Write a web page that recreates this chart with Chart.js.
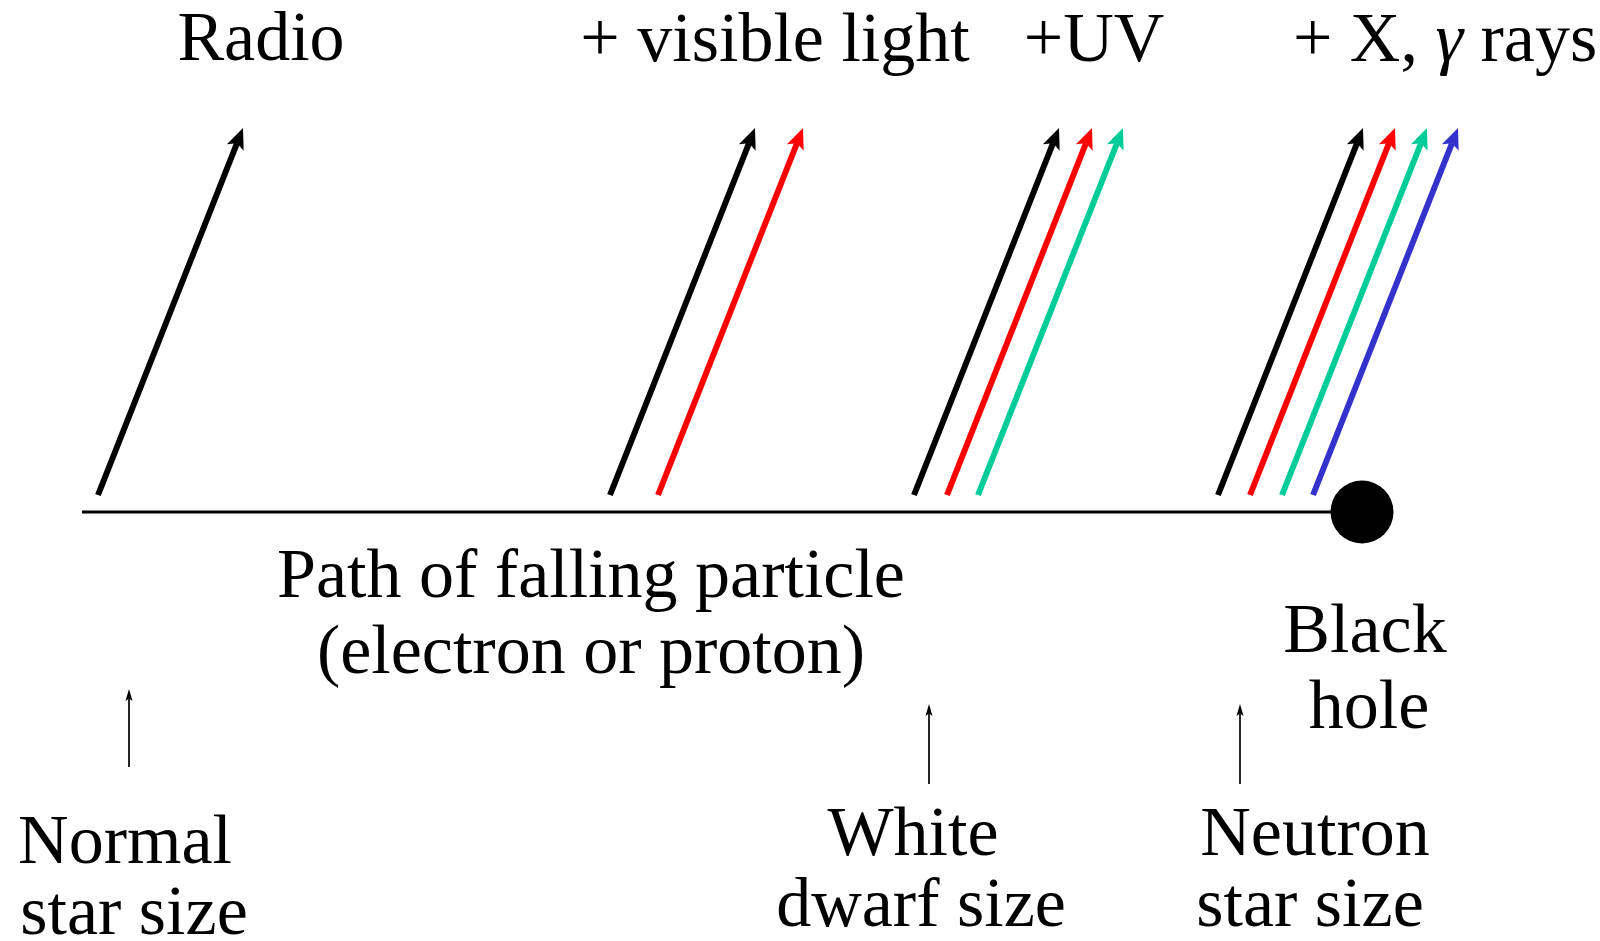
<!DOCTYPE html>
<html>
<head>
<meta charset="utf-8">
<script src="https://cdn.jsdelivr.net/npm/chart.js@4.4.1/dist/chart.umd.min.js"></script>
<style>
  html, body { margin: 0; padding: 0; background: #fff; }
  #wrap { width: 1600px; height: 941px; }
</style>
</head>
<body>
<div id="wrap"><canvas id="diagram"></canvas></div>
<script>
// emission bands, one group of arrows for each stage of the fall
const bandNames = ['Radio', '+ visible light', '+UV', '+ X, \u03b3 rays'];
const bandColors = ['#000000', '#ff0000', '#00cc99', '#3333cc'];
// foot of every emission arrow along the path, grouped by stage
const arrowFeet = [
  [98],
  [610, 658],
  [914, 947, 978],
  [1218, 1250, 1282, 1313]
];
const arrowFootY = 495;
const arrowTipY = 128;
const arrowLean = 145;

const pathStart = 82, pathEnd = 1362, pathY = 512;

// size markers under the path
const markerX = [129, 929, 1240];
const markerTop = [689, 704, 704];
const markerBottom = [767, 784, 784];

// labels (anchor = centre of the baseline)
const labelText = [
  'Radio', '+ visible light', '+UV', '+ X, \u03b3 rays',
  'Path of falling particle', '(electron or proton)',
  'Black', 'hole',
  'Normal', 'star size',
  'White', 'dwarf size',
  'Neutron', 'star size'
];
const labelX = [261, 775, 1094, 1445, 591, 591, 1365, 1369, 125, 134, 913, 921, 1315, 1310];
const labelY = [60, 61, 61, 61, 597, 673, 652, 728, 863, 934, 855, 926, 855, 926];

const datasets = [];

// black hole at the end of the path
datasets.push({
  type: 'scatter',
  data: [{ x: pathEnd, y: pathY }],
  pointRadius: 31.5,
  pointBackgroundColor: '#000',
  pointBorderWidth: 0,
  order: -1
});

datasets.push({
  type: 'line',
  data: [{ x: pathStart, y: pathY }, { x: pathEnd, y: pathY }],
  borderColor: '#000',
  borderWidth: 2.8,
  pointRadius: 0
});

arrowFeet.forEach(group => {
  group.forEach((foot, k) => {
    datasets.push({
      type: 'line',
      data: [{ x: foot, y: arrowFootY }, { x: foot + arrowLean, y: arrowTipY }],
      borderColor: bandColors[k],
      borderWidth: 6,
      pointRadius: 0,
      head: { len: 21, half: 9, notch: 0.78, color: bandColors[k] }
    });
  });
});

markerX.forEach((mx, i) => {
  datasets.push({
    type: 'line',
    data: [{ x: mx, y: markerBottom[i] }, { x: mx, y: markerTop[i] }],
    borderColor: '#000',
    borderWidth: 1.7,
    pointRadius: 0,
    head: { len: 12, half: 3.5, notch: 0.8, color: '#000' }
  });
});

function headGeom(a, b) {
  const dx = b.x - a.x, dy = b.y - a.y;
  const d = Math.hypot(dx, dy);
  const ux = dx / d, uy = dy / d;
  return { ux, uy, nx: -uy, ny: ux, tip: { x: b.x, y: b.y } };
}

const arrowHeads = {
  id: 'arrowHeads',
  beforeDatasetDraw(chart, args) {
    const ds = chart.data.datasets[args.index];
    if (!ds.head) return;
    const pts = args.meta.data;
    const g = headGeom(pts[0], pts[pts.length - 1]);
    const h = ds.head;
    const ctx = chart.ctx;
    // hide the shaft where the head sits
    const back = h.len * h.notch;
    const bx = g.tip.x - g.ux * back, by = g.tip.y - g.uy * back;
    const fx = g.tip.x + g.ux * 4, fy = g.tip.y + g.uy * 4;
    const w = h.half;
    ctx.save();
    ctx.beginPath();
    ctx.rect(0, 0, chart.width, chart.height);
    ctx.moveTo(bx + g.nx * w, by + g.ny * w);
    ctx.lineTo(fx + g.nx * w, fy + g.ny * w);
    ctx.lineTo(fx - g.nx * w, fy - g.ny * w);
    ctx.lineTo(bx - g.nx * w, by - g.ny * w);
    ctx.closePath();
    ctx.clip('evenodd');
  },
  afterDatasetDraw(chart, args) {
    const ds = chart.data.datasets[args.index];
    if (!ds.head) return;
    const ctx = chart.ctx;
    ctx.restore();
    const pts = args.meta.data;
    const g = headGeom(pts[0], pts[pts.length - 1]);
    const h = ds.head;
    const bx = g.tip.x - g.ux * h.len, by = g.tip.y - g.uy * h.len;
    const cx = g.tip.x - g.ux * h.len * h.notch, cy = g.tip.y - g.uy * h.len * h.notch;
    ctx.save();
    ctx.fillStyle = h.color;
    ctx.beginPath();
    ctx.moveTo(g.tip.x, g.tip.y);
    ctx.lineTo(bx + g.nx * h.half, by + g.ny * h.half);
    ctx.lineTo(cx, cy);
    ctx.lineTo(bx - g.nx * h.half, by - g.ny * h.half);
    ctx.closePath();
    ctx.fill();
    ctx.restore();
  }
};

const FONT = '70px "Liberation Serif", "DejaVu Serif", serif';
const FONT_IT = 'italic 70px "Liberation Serif", "DejaVu Serif", serif';

// split out the gamma so it can be set in italic, as in maths mode
function textRuns(t) {
  return t.split(/(\u03b3)/).filter(s => s.length).map(s => ({ s, font: s === '\u03b3' ? FONT_IT : FONT }));
}

const labels = {
  id: 'labels',
  afterDraw(chart) {
    const ctx = chart.ctx;
    const xs = chart.scales.x, ys = chart.scales.y;
    ctx.save();
    ctx.fillStyle = '#000';
    ctx.textAlign = 'left';
    ctx.textBaseline = 'alphabetic';
    labelText.forEach((t, i) => {
      const runs = textRuns(t);
      let total = 0;
      runs.forEach(r => { ctx.font = r.font; r.w = ctx.measureText(r.s).width; total += r.w; });
      let x = xs.getPixelForValue(labelX[i]) - total / 2;
      const y = ys.getPixelForValue(labelY[i]);
      runs.forEach(r => { ctx.font = r.font; ctx.fillText(r.s, x, y); x += r.w; });
    });
    ctx.restore();
  }
};

new Chart(document.getElementById('diagram'), {
  type: 'line',
  data: { datasets: datasets },
  options: {
    responsive: true,
    maintainAspectRatio: false,
    animation: false,
    events: [],
    layout: { padding: 0, autoPadding: false },
    scales: {
      x: { type: 'linear', min: 0, max: 1600, display: false },
      y: { type: 'linear', min: 0, max: 941, reverse: true, display: false }
    },
    plugins: {
      legend: { display: false },
      tooltip: { enabled: false }
    }
  },
  plugins: [arrowHeads, labels]
});
</script>
</body>
</html>
